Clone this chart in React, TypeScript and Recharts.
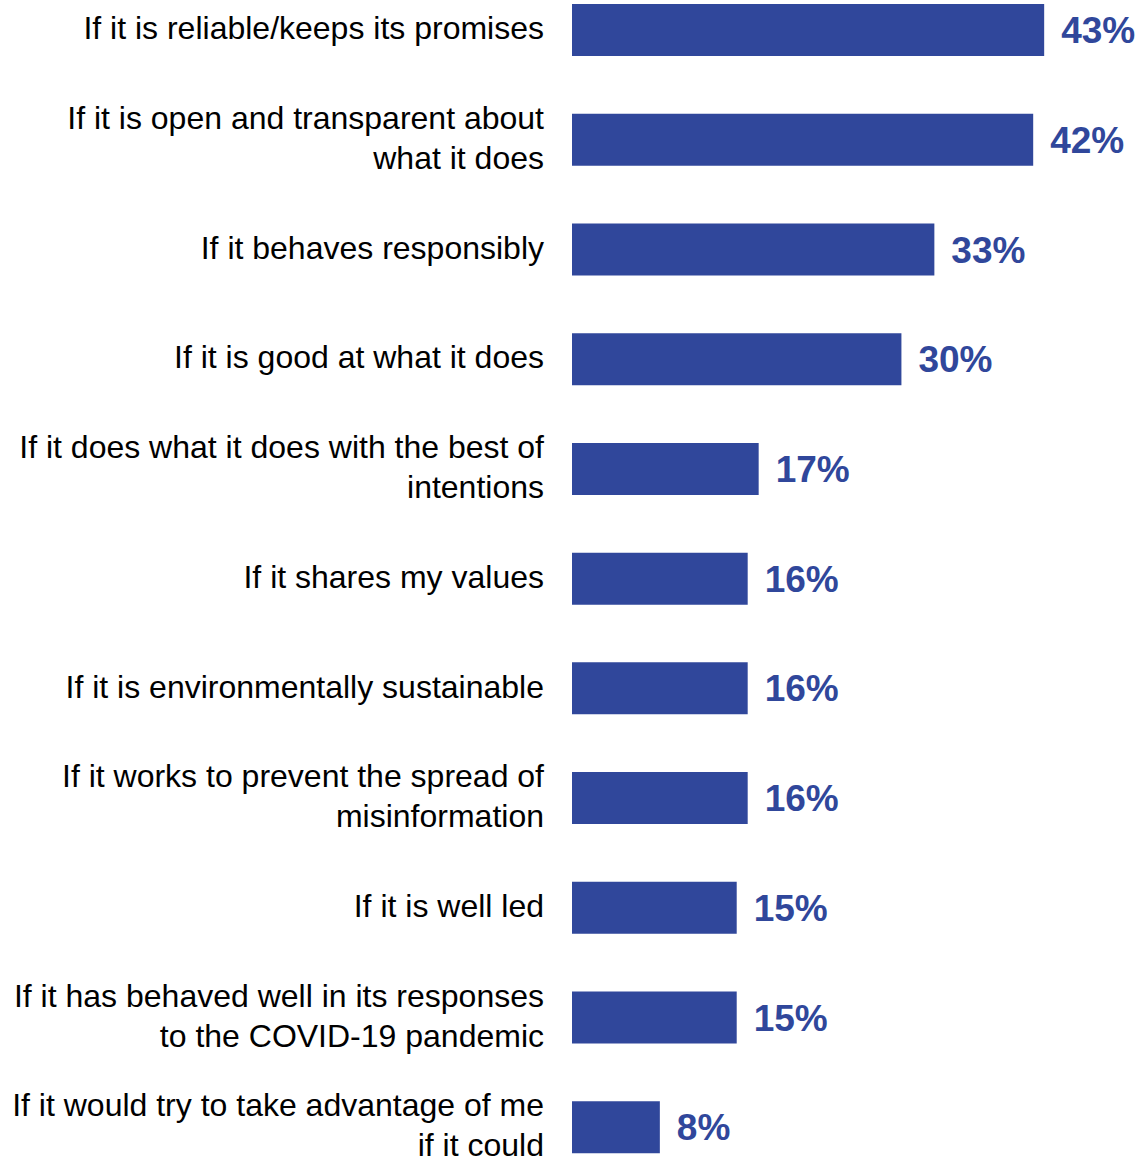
import { BarChart, Bar, XAxis, YAxis, LabelList } from 'recharts'

const CATEGORIES = [
    'If it is reliable/keeps its promises',
    'If it is open and transparent about\nwhat it does',
    'If it behaves responsibly',
    'If it is good at what it does',
    'If it does what it does with the best of\nintentions',
    'If it shares my values',
    'If it is environmentally sustainable',
    'If it works to prevent the spread of\nmisinformation',
    'If it is well led',
    'If it has behaved well in its responses\nto the COVID-19 pandemic',
    'If it would try to take advantage of me\nif it could',
]

const VALUES = [43, 42, 33, 30, 17, 16, 16, 16, 15, 15, 8]

const BLUE = '#30479B'

function CategoryTick({ x, y, payload }: any) {
    const lines = String(payload.value).split('\n')
    const lineHeight = 40
    const start = -((lines.length - 1) * lineHeight) / 2
    return (
        <text
            x={x}
            y={y}
            textAnchor="end"
            fill="#000"
            fontSize={32}
            fontFamily="'Liberation Sans', Arial, sans-serif"
        >
            {lines.map((line, i) => (
                <tspan key={i} x={x} y={y + start + i * lineHeight} dy="0.29em">
                    {line}
                </tspan>
            ))}
        </text>
    )
}

export default function App() {
    const data = CATEGORIES.map((name, i) => ({ name, value: VALUES[i] }))

    return (
        <div style={{ position: 'absolute', left: 0, top: 0, width: 1143, height: 1158, overflow: 'hidden', background: '#fff' }}>
            <div style={{ marginTop: -25 }}>
                <BarChart
                    width={1143}
                    height={1207}
                    data={data}
                    layout="vertical"
                    margin={{ top: 0, right: 0, bottom: 0, left: 0 }}
                >
                    <XAxis type="number" domain={[0, 52]} hide />
                    <YAxis
                        type="category"
                        dataKey="name"
                        width={572}
                        axisLine={false}
                        tickLine={false}
                        tickSize={0}
                        tickMargin={28}
                        tick={<CategoryTick />}
                        interval={0}
                    />
                    <Bar dataKey="value" fill={BLUE} barSize={52} isAnimationActive={false}>
                        <LabelList
                            dataKey="value"
                            position="right"
                            offset={17}
                            formatter={(v: any) => `${v}%`}
                            fill={BLUE}
                            fontSize={37}
                            fontWeight="bold"
                            fontFamily="'Liberation Sans', Arial, sans-serif"
                        />
                    </Bar>
                </BarChart>
            </div>
        </div>
    )
}
